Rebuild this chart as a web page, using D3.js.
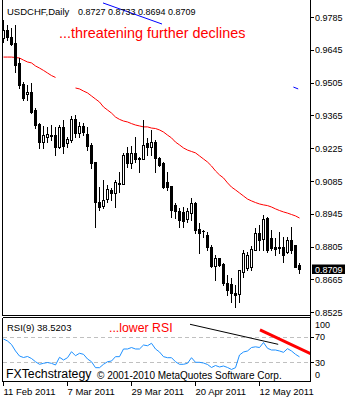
<!DOCTYPE html>
<html><head><meta charset="utf-8">
<script src="https://cdn.jsdelivr.net/npm/d3@7"></script>
<style>body{margin:0;background:#fff}svg{display:block}</style>
</head><body>
<script>
// ---- data ----
const symbol = "USDCHF,Daily";
const opens = [0.9695,0.9730,0.9700,0.9674,0.9589,0.9499,0.9456,0.9465,0.9388,0.9328,
0.9251,0.9273,0.9281,0.9281,0.9230,0.9316,0.9247,0.9260,0.9350,0.9290,
0.9320,0.9286,0.9239,0.9166,0.8995,0.8978,0.9008,0.9047,0.9034,0.9077,
0.9072,0.9205,0.9162,0.9205,0.9183,0.9179,0.9247,0.9230,0.9251,0.9183,
0.9162,0.9081,0.9064,0.8983,0.8957,0.8953,0.8923,0.8948,0.8991,0.8880,
0.8872,0.8855,0.8803,0.8722,0.8756,0.8731,0.8650,0.8645,0.8607,0.8603,
0.8697,0.8714,0.8718,0.8791,0.8863,0.8838,0.8927,0.8842,0.8803,0.8803,
0.8803,0.8782,0.8833,0.8812,0.8727];
const highs = [0.9772,0.9751,0.9738,0.9751,0.9610,0.9508,0.9495,0.9503,0.9397,0.9333,
0.9320,0.9316,0.9324,0.9316,0.9324,0.9345,0.9273,0.9362,0.9367,0.9337,
0.9333,0.9316,0.9247,0.9166,0.9059,0.9089,0.9068,0.9055,0.9089,0.9124,
0.9205,0.9230,0.9234,0.9273,0.9188,0.9345,0.9269,0.9303,0.9260,0.9188,
0.9166,0.9124,0.9064,0.8991,0.8970,0.8974,0.8970,0.9013,0.8995,0.8906,
0.8876,0.8867,0.8812,0.8769,0.8756,0.8735,0.8684,0.8671,0.8641,0.8705,
0.8791,0.8782,0.8808,0.8884,0.8897,0.8940,0.8931,0.8876,0.8842,0.8867,
0.8846,0.8846,0.8889,0.8812,0.8733];
const lows = [0.9678,0.9687,0.9665,0.9550,0.9482,0.9431,0.9431,0.9375,0.9311,0.9226,
0.9226,0.9251,0.9260,0.9196,0.9226,0.9205,0.9230,0.9251,0.9273,0.9273,
0.9281,0.9217,0.9141,0.8889,0.8961,0.8970,0.8995,0.9004,0.8974,0.9038,
0.9072,0.9145,0.9141,0.9166,0.9124,0.9179,0.9196,0.9196,0.9124,0.9149,
0.9055,0.9047,0.8931,0.8927,0.8889,0.8889,0.8910,0.8919,0.8863,0.8778,
0.8846,0.8791,0.8718,0.8663,0.8722,0.8641,0.8599,0.8569,0.8547,0.8569,
0.8675,0.8705,0.8705,0.8791,0.8791,0.8791,0.8782,0.8791,0.8769,0.8778,
0.8739,0.8778,0.8778,0.8718,0.8694];
const closes = [0.9730,0.9700,0.9670,0.9580,0.9495,0.9439,0.9465,0.9380,0.9324,0.9251,
0.9281,0.9286,0.9279,0.9230,0.9316,0.9234,0.9264,0.9350,0.9290,0.9320,
0.9294,0.9234,0.9162,0.8995,0.8974,0.9004,0.9051,0.9034,0.9081,0.9074,
0.9196,0.9162,0.9205,0.9179,0.9181,0.9239,0.9230,0.9251,0.9183,0.9153,
0.9059,0.9059,0.8961,0.8957,0.8919,0.8914,0.8957,0.8991,0.8876,0.8863,
0.8870,0.8803,0.8722,0.8756,0.8727,0.8650,0.8620,0.8607,0.8599,0.8705,
0.8778,0.8769,0.8795,0.8863,0.8833,0.8923,0.8791,0.8799,0.8795,0.8801,
0.8769,0.8833,0.8791,0.8718,0.8709];
const movingAvg = [0.9614,0.9614,0.9614,0.9612,0.9610,0.9601,0.9593,0.9589,0.9576,0.9567,
0.9557,0.9546,0.9535,0.9527,null,null,null,null,0.9482,0.9478,
0.9469,0.9461,0.9448,0.9435,0.9422,0.9401,0.9388,0.9375,0.9358,0.9348,
0.9341,0.9337,0.9330,0.9324,0.9320,0.9316,0.9316,0.9311,0.9309,0.9303,
0.9294,0.9281,0.9269,0.9251,0.9239,0.9226,0.9217,0.9211,0.9205,0.9192,
0.9179,0.9166,0.9149,0.9128,0.9111,0.9098,0.9077,0.9059,0.9047,0.9034,
0.9021,0.9008,0.9000,0.8993,0.8987,0.8983,0.8980,0.8974,0.8966,0.8959,
0.8953,0.8948,0.8942,0.8936,0.8927];
const rsiValues = [66.4,63.3,57.8,47.7,39.8,37.5,39.1,35.9,30.9,26.9,
28.4,29.7,28.4,25.8,37.8,33.6,37.2,46.6,40.3,44.1,
42.5,35.2,30.9,21.6,21.6,26.9,30.9,32.0,38.8,38.8,
50.8,50.8,53.1,50.8,50.8,57.0,55.9,59.7,50.8,46.1,
38.8,37.2,37.2,30.9,26.9,26.9,28.4,37.2,30.0,30.0,
28.9,26.6,21.9,25.0,22.7,24.2,21.9,18.8,21.6,41.4,
46.1,47.7,53.1,54.2,53.1,60.9,51.9,49.2,49.2,47.7,
45.6,51.3,47.7,42.5,38.5203];
const priceTicks = [0.9785,0.9645,0.9505,0.9365,0.9225,0.9085,0.8945,0.8805,0.8665,0.8525];
const rsiLevels = [100,70,30,0];
const rsiDashed = [70,30];
const dateTickIndex = [0,16,32,48,64];
const dateTickLabels = ["11 Feb 2011","7 Mar 2011","29 Mar 2011","20 Apr 2011","12 May 2011"];
// trend lines drawn on the chart: [barIndex1, value1, barIndex2, value2]
const priceTrendLines = [[25,0.9845,39.75,0.9755],[72.6,0.9486,73.8,0.9478]];
const rsiBlackLine = [46.75,89.4,68.8,58.1];
const rsiRedLine = [64.25,80.5,77.2,42.5];
const headline = "...threatening further declines";
const rsiNote = "...lower RSI";
const brand = "FXTechstrategy";
const copyright = "\u00A9 2001-2010 MetaQuotes Software Corp.";

// ---- layout ----
const W = 350, H = 400;
const L = 2.5, R = 310.5, mainTop = 0, mainBot = 315.5, rsiTop = 317.5, rsiBot = 381.5;
const FONT = "'Liberation Sans', Arial, sans-serif";

const svg = d3.select("body").append("svg").attr("width", W).attr("height", H)
  .style("font-family", FONT);

const n = closes.length;
const x = d3.scaleLinear().domain([0, n - 1]).range([3, 299]);
const y = d3.scaleLinear().domain([0.8525, 0.9785]).range([312.2, 17]);
const yr = d3.scaleLinear().domain([0, 100]).range([rsiBot, rsiTop]);
const px = i => Math.round(x(i));
const py = v => Math.round(y(v));

const defs = svg.append("defs");
defs.append("clipPath").attr("id", "cm").append("rect")
  .attr("x", L).attr("y", mainTop).attr("width", R - L).attr("height", mainBot - mainTop);
defs.append("clipPath").attr("id", "cr").append("rect")
  .attr("x", L).attr("y", rsiTop).attr("width", R - L).attr("height", rsiBot - rsiTop);

// ---- main pane ----
const main = svg.append("g").attr("clip-path", "url(#cm)");

// moving average
main.append("path")
  .datum(movingAvg.map((v, i) => [i, v]))
  .attr("fill", "none").attr("stroke", "#ff0000").attr("stroke-width", 1)
  .attr("d", d3.line().defined(d => d[1] != null).x(d => x(d[0]) + 0.5).y(d => y(d[1])));

// trend lines (blue)
main.selectAll("line.tl").data(priceTrendLines).join("line")
  .attr("x1", d => x(d[0])).attr("y1", d => y(d[1]))
  .attr("x2", d => x(d[2])).attr("y2", d => y(d[3]))
  .attr("stroke", "#0000ff").attr("stroke-width", 1);

// candles
const cg = main.append("g").attr("shape-rendering", "crispEdges");
const idx = d3.range(n);
cg.selectAll("line.w").data(idx).join("line")
  .attr("x1", i => px(i) + 0.5).attr("x2", i => px(i) + 0.5)
  .attr("y1", i => py(highs[i])).attr("y2", i => py(lows[i]) + 1)
  .attr("stroke", "#000").attr("stroke-width", 1);
idx.forEach(i => {
  const o = py(opens[i]), c = py(closes[i]);
  if (o === c) {
    cg.append("rect").attr("x", px(i) - 1).attr("y", o).attr("width", 3).attr("height", 1).attr("fill", "#000");
  } else if (closes[i] < opens[i]) {
    cg.append("rect").attr("x", px(i) - 1).attr("y", o).attr("width", 3).attr("height", c - o + 1).attr("fill", "#000");
  } else {
    cg.append("rect").attr("x", px(i) - 0.5).attr("y", c + 0.5).attr("width", 2).attr("height", o - c)
      .attr("fill", "#fff").attr("stroke", "#000").attr("stroke-width", 1);
  }
});

// header
const last = n - 1;
svg.append("text").attr("x", 7).attr("y", 15).attr("font-size", 9.5).attr("fill", "#000").text(symbol);
svg.append("text").attr("x", 78).attr("y", 15).attr("font-size", 9).attr("fill", "#000")
  .text([opens[last], highs[last], lows[last], closes[last]].map(v => v.toFixed(4)).join(" "));
svg.append("text").attr("x", 59).attr("y", 37.5).attr("font-size", 14.4).attr("fill", "#ff0000").text(headline);

// ---- rsi pane ----
const rp = svg.append("g").attr("clip-path", "url(#cr)");
rp.selectAll("line.lv").data(rsiDashed).join("line")
  .attr("x1", L).attr("x2", R).attr("y1", v => Math.round(yr(v)) + 0.5).attr("y2", v => Math.round(yr(v)) + 0.5)
  .attr("stroke", "#c0c0c0").attr("stroke-dasharray", "4,3").attr("shape-rendering", "crispEdges");
rp.append("path").datum(rsiValues.map((v, i) => [i, v]))
  .attr("fill", "none").attr("stroke", "#1e90ff").attr("stroke-width", 1)
  .attr("d", d3.line().x(d => x(d[0]) + 0.5).y(d => yr(d[1])));
rp.append("line")
  .attr("x1", x(rsiBlackLine[0])).attr("y1", yr(rsiBlackLine[1]))
  .attr("x2", x(rsiBlackLine[2])).attr("y2", yr(rsiBlackLine[3]))
  .attr("stroke", "#000").attr("stroke-width", 1);
rp.append("line")
  .attr("x1", x(rsiRedLine[0])).attr("y1", yr(rsiRedLine[1]))
  .attr("x2", x(rsiRedLine[2])).attr("y2", yr(rsiRedLine[3]))
  .attr("stroke", "#ff0000").attr("stroke-width", 3);

svg.append("text").attr("x", 7).attr("y", 331).attr("font-size", 9.5).attr("fill", "#000")
  .text("RSI(9) " + rsiValues[last].toFixed(4));
svg.append("text").attr("x", 109).attr("y", 331.5).attr("font-size", 12.3).attr("fill", "#ff0000").text(rsiNote);
svg.append("text").attr("x", 6).attr("y", 377.5).attr("font-size", 12.3).attr("fill", "#000").text(brand);
svg.append("text").attr("x", 97).attr("y", 379).attr("font-size", 10).attr("fill", "#000").text(copyright);

// ---- frames ----
const fr = svg.append("g").attr("stroke", "#000").attr("stroke-width", 1).attr("shape-rendering", "crispEdges");
fr.append("line").attr("x1", L).attr("x2", L).attr("y1", mainTop).attr("y2", mainBot);
fr.append("line").attr("x1", L).attr("x2", R).attr("y1", mainBot).attr("y2", mainBot);
fr.append("line").attr("x1", L).attr("x2", L).attr("y1", rsiTop).attr("y2", rsiBot);
fr.append("line").attr("x1", L).attr("x2", R).attr("y1", rsiTop).attr("y2", rsiTop);
fr.append("line").attr("x1", L).attr("x2", R).attr("y1", rsiBot).attr("y2", rsiBot);
fr.append("line").attr("x1", R).attr("x2", R).attr("y1", 0).attr("y2", rsiBot);

// ---- price axis ----
const ax = svg.append("g");
ax.selectAll("line").data(priceTicks).join("line")
  .attr("x1", R).attr("x2", R + 3).attr("y1", v => py(v) + 0.5).attr("y2", v => py(v) + 0.5)
  .attr("stroke", "#000").attr("shape-rendering", "crispEdges");
ax.selectAll("text").data(priceTicks).join("text")
  .attr("x", 315).attr("y", v => y(v) + 3.5).attr("font-size", 9).attr("fill", "#000")
  .text(v => v.toFixed(4));

// current price tag
const cy = y(closes[last]);
svg.append("rect").attr("x", 312).attr("y", Math.round(cy) - 4.5).attr("width", 33).attr("height", 9.5).attr("fill", "#000");
svg.append("text").attr("x", 315).attr("y", cy + 3.5).attr("font-size", 9).attr("fill", "#fff").text(closes[last].toFixed(4));

// ---- rsi axis ----
const ra = svg.append("g");
ra.selectAll("line").data(rsiDashed).join("line")
  .attr("x1", R).attr("x2", R + 3).attr("y1", v => Math.round(yr(v)) + 0.5).attr("y2", v => Math.round(yr(v)) + 0.5)
  .attr("stroke", "#000").attr("shape-rendering", "crispEdges");
ra.selectAll("text").data(rsiLevels).join("text")
  .attr("x", 315).attr("y", v => Math.min(Math.max(yr(v) + 3.3, rsiTop + 10.2), rsiBot - 3.8))
  .attr("font-size", 9).attr("fill", "#000").text(v => v);

// ---- date axis ----
const da = svg.append("g");
da.selectAll("line").data(dateTickIndex).join("line")
  .attr("x1", i => px(i) + 0.5).attr("x2", i => px(i) + 0.5).attr("y1", rsiBot).attr("y2", rsiBot + 4)
  .attr("stroke", "#000").attr("shape-rendering", "crispEdges");
da.selectAll("text").data(dateTickIndex).join("text")
  .attr("x", i => px(i) + 0.5).attr("y", 394.5).attr("font-size", 9.5).attr("fill", "#000")
  .text((i, k) => dateTickLabels[k]);
</script>
</body></html>
